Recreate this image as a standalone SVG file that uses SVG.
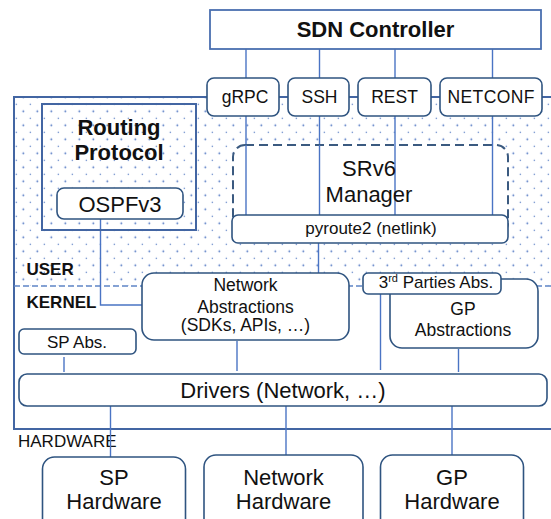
<svg xmlns="http://www.w3.org/2000/svg" width="551" height="519" viewBox="0 0 551 519">
<defs>
<pattern id="dots" patternUnits="userSpaceOnUse" x="12.8" y="100.8" width="14" height="14">
<circle cx="3.5" cy="3.5" r="0.7" fill="#4a72c0"/>
<circle cx="10.5" cy="10.5" r="0.9" fill="#4a72c0"/>
</pattern>
<style>
text{font-family:"Liberation Sans",Arial,sans-serif;fill:#111;text-anchor:middle}
.b{font-weight:bold}
.rb{fill:#fff;stroke:#2f5480;stroke-width:1.6}
.sq{fill:none;stroke:#4366a3;stroke-width:2}
.ln{fill:none;stroke:#4a74c4;stroke-width:1.4}
.f17{font-size:17px}
.f175{font-size:17.5px}
.f22{font-size:22px}
</style>
</defs>
<rect id="user-region" x="14" y="97" width="540" height="189" fill="url(#dots)"/>
<g id="outer">
<rect x="14" y="97" width="540" height="332" class="sq"/>
<line x1="14" y1="286" x2="551" y2="286" stroke="#5f85c6" stroke-width="1.6" stroke-dasharray="6,3"/>
</g>
<g id="labels-layers">
<text x="26.5" y="275" class="b f17" style="text-anchor:start">USER</text>
<text x="26.5" y="308" class="b f17" style="text-anchor:start">KERNEL</text>
<text x="18" y="446.5" class="f17" style="text-anchor:start">HARDWARE</text>
</g>
<g id="connectors">
<line x1="246" y1="49" x2="246" y2="78" class="ln"/>
<line x1="319.5" y1="49" x2="319.5" y2="78" class="ln"/>
<line x1="395" y1="49" x2="395" y2="78" class="ln"/>
<line x1="492.5" y1="49" x2="492.5" y2="78" class="ln"/>
<line x1="246" y1="116" x2="246" y2="215" class="ln"/>
<line x1="319.5" y1="116" x2="319.5" y2="215" class="ln"/>
<line x1="395" y1="116" x2="395" y2="215" class="ln"/>
<line x1="492.5" y1="116" x2="492.5" y2="215" class="ln"/>
<line x1="318.5" y1="243" x2="318.5" y2="273" class="ln"/>
<polyline points="100.5,219 100.5,305 142,305" class="ln"/>
<line x1="64" y1="357" x2="64" y2="372" class="ln"/>
<line x1="237" y1="341" x2="237" y2="371" class="ln"/>
<line x1="380.5" y1="294" x2="380.5" y2="370" class="ln"/>
<line x1="458.5" y1="349" x2="458.5" y2="372" class="ln"/>
<line x1="110.5" y1="406" x2="110.5" y2="457" class="ln"/>
<line x1="286" y1="406" x2="286" y2="455" class="ln"/>
<line x1="452" y1="406" x2="452" y2="455" class="ln"/>
</g>
<g id="sdn-controller">
<rect x="210" y="10" width="331" height="39" fill="#fff" stroke="#4a6fb0" stroke-width="1.8"/>
<text x="375.5" y="37" class="b f22">SDN Controller</text>
</g>
<g id="grpc"><rect x="207" y="78" width="72" height="38" rx="7" class="rb"/><text x="245" y="102.5" class="f175">gRPC</text></g>
<g id="ssh"><rect x="288" y="78" width="61" height="38" rx="7" class="rb"/><text x="319.5" y="102.5" class="f175">SSH</text></g>
<g id="rest"><rect x="358" y="78" width="73" height="38" rx="7" class="rb"/><text x="394.5" y="102.5" class="f175">REST</text></g>
<g id="netconf"><rect x="440" y="78" width="102" height="38" rx="7" class="rb"/><text x="491" y="102.5" class="f175" textLength="87">NETCONF</text></g>
<g id="routing-protocol">
<rect x="42" y="104" width="154" height="126" class="sq"/>
<text x="119" y="135" class="b f22">Routing</text>
<text x="119" y="160" class="b f22">Protocol</text>
</g>
<g id="ospfv3"><rect x="57" y="188" width="126" height="31" rx="7" class="rb"/><text x="120" y="211.5" class="f22">OSPFv3</text></g>
<g id="srv6-manager">
<rect x="233" y="145" width="275" height="90" rx="12" fill="#fff" stroke="#3b5a80" stroke-width="2" stroke-dasharray="9,5"/>
<line x1="246" y1="145" x2="246" y2="215" class="ln"/>
<line x1="319.5" y1="145" x2="319.5" y2="215" class="ln"/>
<line x1="395" y1="145" x2="395" y2="215" class="ln"/>
<line x1="492.5" y1="145" x2="492.5" y2="215" class="ln"/>
<text x="369" y="175.5" class="f22">SRv6</text>
<text x="369" y="201.5" class="f22">Manager</text>
</g>
<g id="pyroute2"><rect x="232" y="215" width="276" height="28" rx="6" class="rb"/><text x="371" y="233.5" class="f17">pyroute2 (netlink)</text></g>
<g id="network-abstractions">
<rect x="142" y="273" width="207" height="67" rx="12" class="rb"/>
<text x="245.5" y="290.5" class="f175">Network</text>
<text x="245.5" y="312.5" class="f175">Abstractions</text>
<text x="245.5" y="330.5" class="f175">(SDKs, APIs, …)</text>
</g>
<g id="gp-abstractions">
<rect x="390" y="279" width="148" height="69" rx="12" class="rb"/>
<text x="463" y="315" class="f175">GP</text>
<text x="463" y="336" class="f175">Abstractions</text>
</g>
<g id="third-parties"><rect x="363" y="273" width="138" height="21" rx="5" class="rb"/><text x="436" y="288" class="f17">3<tspan font-size="11" dy="-6">rd</tspan><tspan dy="6"> Parties Abs.</tspan></text></g>
<g id="sp-abs"><rect x="19" y="329" width="117" height="25" rx="5" class="rb"/><text x="77" y="347.5" class="f17">SP Abs.</text></g>
<g id="drivers"><rect x="19" y="374" width="528" height="32" rx="8" class="rb"/><text x="283" y="397.5" class="f22">Drivers (Network, …)</text></g>
<g id="sp-hardware"><rect x="42.5" y="457" width="143" height="80" rx="12" class="rb"/><text x="114" y="484.5" class="f22">SP</text><text x="114" y="509" class="f22">Hardware</text></g>
<g id="network-hardware"><rect x="204" y="455" width="159" height="82" rx="12" class="rb"/><text x="283.5" y="484.5" class="f22">Network</text><text x="283.5" y="509" class="f22">Hardware</text></g>
<g id="gp-hardware"><rect x="380.5" y="455" width="143" height="82" rx="12" class="rb"/><text x="452" y="484.5" class="f22">GP</text><text x="452" y="509" class="f22">Hardware</text></g>
</svg>
